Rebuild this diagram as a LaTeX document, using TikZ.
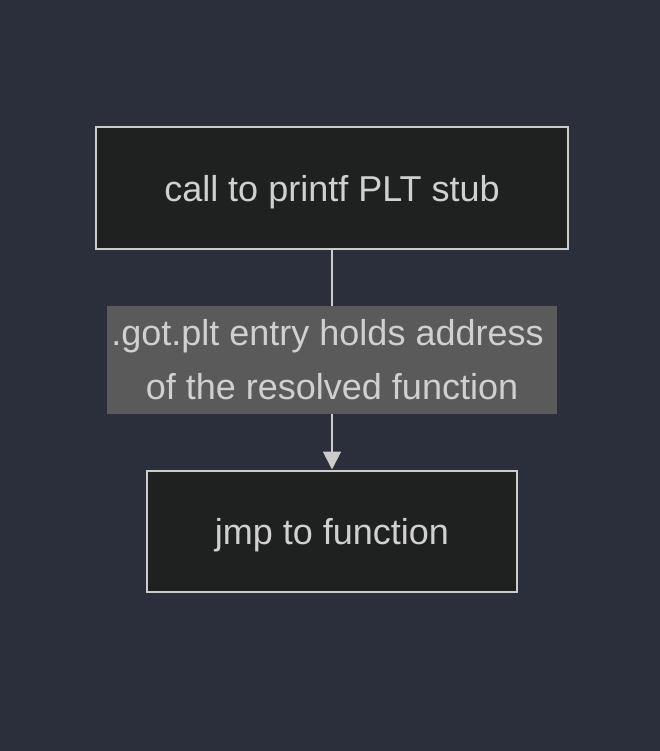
\documentclass[tikz,border=0pt]{standalone}
\usepackage{fontspec}
\setmainfont{Liberation Sans}
\usepackage{tikz}
\usetikzlibrary{
  arrows.meta,
  positioning
}
\definecolor{pageBg}{HTML}{2A2F3B}
\definecolor{stepFill}{HTML}{1F2020}
\definecolor{stepLine}{HTML}{CCCCCC}
\definecolor{stepText}{HTML}{D0D0D0}
\definecolor{labelFill}{HTML}{5A5A5A}

\begin{document}
\begin{tikzpicture}[
  x=1pt,
  y=-1pt,
  every step box/.style={
    draw=stepLine,
    line width=2pt,
    fill=stepFill,
    text=stepText,
    inner sep=0pt,
    text height=31pt,
    text depth=5pt,
    font=\fontsize{36}{54}\selectfont
  },
  step box/.style={
    every step box/.try,
    minimum height=121pt
  },
  edge label/.style={
    fill=labelFill,
    text=stepText,
    inner sep=0pt,
    align=center,
    minimum width=450pt,
    minimum height=108pt,
    font=\fontsize{36}{54}\selectfont
  },
  flow/.style={
    draw=stepLine,
    line width=2pt,
    -{Triangle[width=18pt,length=18pt]}
  }
]
\fill[pageBg] (0,0) rectangle (660,751);
\useasboundingbox (0,0) rectangle (660,751);
\node[step box,minimum width=472pt] (call) at (332,188) {call to printf PLT stub};
\node[step box,minimum width=370pt,below=220pt of call] (jmp) {jmp to function};
\draw[flow] (call) -- node[edge label] (got) {.got.plt entry holds address\kern9pt\\of the resolved function} (jmp);
\end{tikzpicture}
\end{document}
